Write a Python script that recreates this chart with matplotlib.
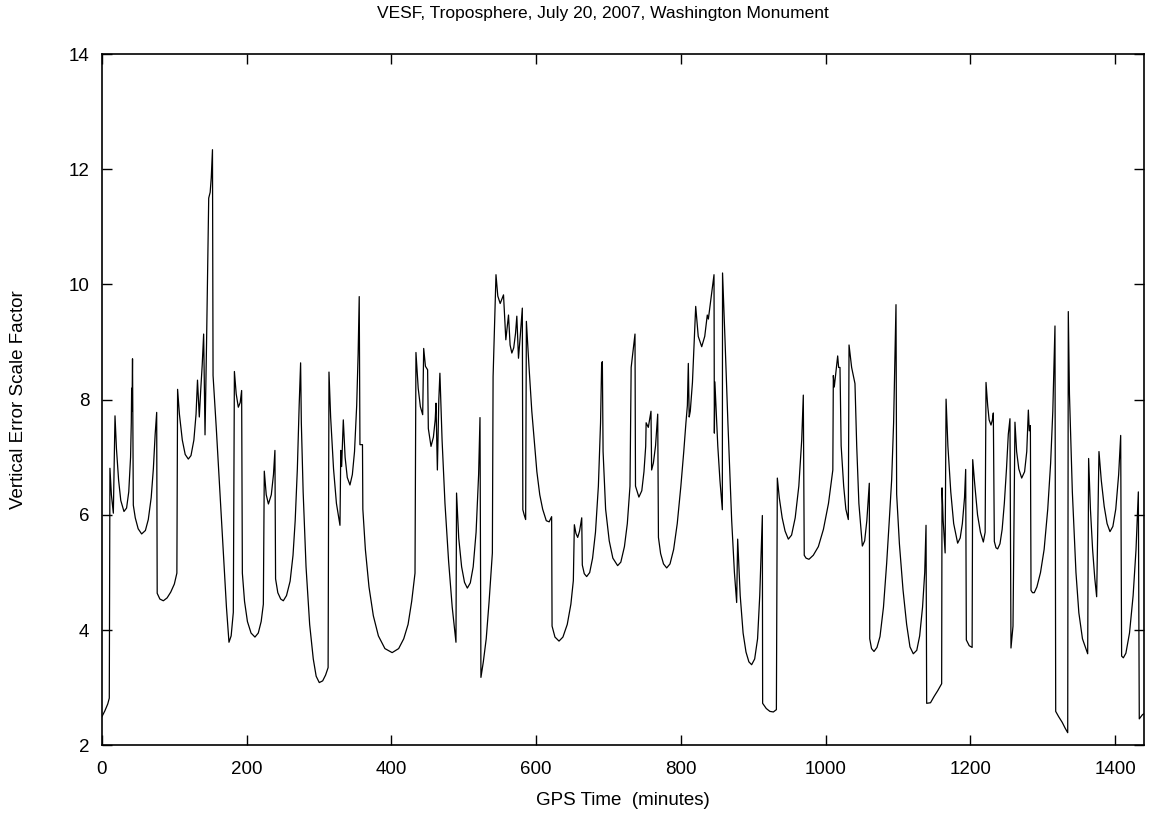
import matplotlib.pyplot as plt

plt.rcParams['font.family'] = ['Liberation Sans', 'DejaVu Sans']

# GPS time (minutes) and vertical error scale factor
gps_minutes = [
    0, 4, 8, 10.1, 11, 13, 15.7, 18, 20, 23, 26, 30.4, 34, 37, 39.5, 40.5, 41, 41.5, 42.2, 43.3,
    46, 50, 54.8, 60, 64, 68, 71, 73.5, 75.6, 76.3, 80, 84.8, 90, 95, 100, 103.5,
    104.5, 107, 111, 115, 119.3, 123, 127, 130, 132, 134.5, 136.5, 138.5, 140.5, 142.4, 144.5,
    147.5, 149.5, 151, 152.7, 153.5, 158, 163, 168, 172, 175.5, 178.5, 181.5,
    183, 185.5, 188.4, 191, 193, 194, 197, 201, 206, 211.4, 216, 220, 223, 224.3, 227, 230, 234,
    237, 239, 239.9, 243, 247, 250.6, 255, 260, 264, 267, 270, 272.5, 274.5, 275.5, 278, 282,
    287, 292, 296, 300.3, 305, 309, 312.5, 313.7, 316, 320, 324, 328.9, 330, 331.2, 333.5, 336,
    339, 342.7, 346, 349, 352, 354, 355.5, 356.5, 360,
    360.5, 364, 369, 375, 382, 391, 401, 410, 417, 423, 428, 432.6, 433.9, 437, 440, 443.2,
    444.6, 447, 450, 451, 454.7, 458, 460.5, 461.6, 463.5, 465.5, 467, 470, 474, 479, 484,
    489.2, 490, 493, 497, 501, 504.9, 509, 513, 517, 520.5, 522.4, 523.7, 527, 531, 535, 539.5,
    540.5, 544.5, 547, 550.3, 554.9, 558.1, 561.8, 564, 566.4, 569, 571.5, 573.3, 575.6, 578,
    580.9, 581.6, 583.5, 585.5, 586.5, 590, 594, 598, 601, 605, 609, 614, 618, 621.4,
    622, 626, 631.6, 637, 643, 648, 651.4, 652.8, 655, 657.4, 660, 663, 663.8, 666.5, 669.8,
    674, 678, 682, 686, 689, 690.5, 691.5, 692.5, 696, 701, 706, 712.6, 717, 722, 726, 729.7,
    731.3, 734, 736.6, 737.3, 742, 746, 749, 751.4, 752, 755, 758.7, 759.6, 762, 765, 768, 769,
    772, 776, 780.4, 785, 790, 795, 800, 804, 807, 809, 810.3, 811.5, 813, 816, 818.6, 820.5,
    824, 828.8, 833, 836.5, 838, 842, 845.8, 846.3, 847, 851, 854, 857.3, 857.6, 861, 865,
    870.2, 874, 877.1, 878.5, 882, 886, 890, 894, 897.8, 902, 906, 909, 912.6,
    913, 918, 923, 927.8, 932, 933.3, 936, 940, 944, 948.5, 953, 958, 963, 967, 969.2, 970.5,
    973, 977, 983, 990, 997, 1004, 1010, 1010.7, 1012, 1014.5, 1016.7, 1018, 1019.9, 1021.5,
    1025, 1028, 1031.4, 1032.4, 1036, 1040.6, 1043, 1046, 1050.8, 1054, 1057, 1060.4, 1061,
    1063.5, 1066.9, 1071, 1075.2, 1080, 1084.4, 1088, 1091.3, 1094, 1096, 1097.3, 1098.2, 1102,
    1107, 1112, 1116.6, 1121.2, 1126, 1130, 1134, 1137, 1138.8, 1139.7, 1145, 1150, 1155,
    1160.4, 1160.9, 1162.5, 1165.2, 1166.5, 1169, 1173, 1177, 1182.5, 1186, 1189, 1192, 1193.6,
    1194.5, 1198.5, 1202.5, 1203.3, 1206, 1210, 1214, 1218, 1220.5, 1221.7, 1224, 1226, 1228.6,
    1230.5, 1231.8, 1233.2, 1235.5, 1237.8, 1241, 1244, 1247, 1250, 1252.5, 1254.8, 1256.2,
    1259, 1261.7, 1264, 1267, 1271, 1275, 1278, 1280.2, 1281.5, 1283, 1283.9, 1286, 1288.4,
    1292, 1297, 1302, 1307, 1311, 1314, 1317, 1318, 1322, 1327, 1331, 1334.6, 1335.4, 1337,
    1341, 1346, 1350, 1355, 1362.2, 1363.5, 1366, 1369, 1372, 1374.6, 1377.8, 1381, 1385, 1389,
    1393, 1397, 1401, 1405, 1407.8, 1409.1, 1411.5, 1415, 1420, 1425, 1429, 1432.2, 1433.5,
    1437.7, 1440,
]

vesf = [
    2.50, 2.60, 2.72, 2.82, 6.81, 6.35, 6.03, 7.72, 7.15, 6.60, 6.25, 6.06, 6.12, 6.40, 7.00, 7.60, 8.20, 7.80, 8.71, 6.17,
    5.95, 5.76, 5.67, 5.73, 5.92, 6.30, 6.80, 7.40, 7.78, 4.64, 4.54, 4.51, 4.56, 4.66, 4.80, 4.99,
    8.18, 7.75, 7.30, 7.05, 6.97, 7.03, 7.30, 7.75, 8.34, 7.70, 8.18, 8.60, 9.14, 7.39, 8.97,
    11.50, 11.60, 11.85, 12.34, 8.42, 7.50, 6.40, 5.30, 4.40, 3.79, 3.90, 4.31,
    8.49, 8.10, 7.87, 7.95, 8.16, 4.99, 4.50, 4.15, 3.95, 3.88, 3.95, 4.15, 4.45, 6.76, 6.35, 6.19, 6.35,
    6.70, 7.12, 4.89, 4.65, 4.54, 4.51, 4.60, 4.85, 5.30, 5.90, 6.80, 7.90, 8.64, 7.60, 6.40, 5.10,
    4.10, 3.50, 3.20, 3.09, 3.12, 3.22, 3.35, 8.48, 7.70, 6.80, 6.20, 5.82, 7.12, 6.84, 7.65, 7.00,
    6.65, 6.52, 6.70, 7.10, 7.90, 8.80, 9.79, 7.22, 7.22,
    6.10, 5.40, 4.75, 4.25, 3.90, 3.68, 3.61, 3.68, 3.85, 4.10, 4.50, 4.99, 8.82, 8.20, 7.88, 7.74,
    8.89, 8.58, 8.52, 7.50, 7.19, 7.35, 7.65, 7.94, 6.78, 8.00, 8.46, 7.30, 6.20, 5.20, 4.40,
    3.79, 6.38, 5.60, 5.10, 4.83, 4.73, 4.82, 5.10, 5.70, 6.70, 7.69, 3.18, 3.45, 3.85, 4.50, 5.34,
    8.40, 10.17, 9.80, 9.67, 9.82, 9.04, 9.47, 8.95, 8.81, 8.90, 9.15, 9.45, 8.72, 9.10,
    9.59, 6.09, 6.00, 5.92, 9.36, 8.60, 7.80, 7.20, 6.75, 6.35, 6.10, 5.90, 5.88, 5.97,
    4.07, 3.88, 3.81, 3.88, 4.10, 4.45, 4.86, 5.83, 5.68, 5.61, 5.72, 5.95, 5.13, 4.98, 4.93,
    5.00, 5.25, 5.70, 6.50, 7.60, 8.63, 8.66, 7.10, 6.10, 5.55, 5.25, 5.12, 5.18, 5.45, 5.85, 6.50,
    8.56, 8.85, 9.14, 6.50, 6.31, 6.42, 6.75, 7.19, 7.60, 7.52, 7.80, 6.78, 6.90, 7.20, 7.75, 5.61,
    5.33, 5.15, 5.08, 5.15, 5.40, 5.85, 6.50, 7.10, 7.60, 7.90, 8.63, 7.70, 7.80, 8.30, 9.04, 9.62,
    9.10, 8.92, 9.10, 9.47, 9.40, 9.80, 10.17, 7.42, 8.31, 7.20, 6.60, 6.09, 10.20, 9.04, 7.60,
    5.91, 5.00, 4.48, 5.58, 4.60, 3.95, 3.62, 3.45, 3.40, 3.50, 3.85, 4.60, 5.99,
    2.73, 2.64, 2.59, 2.58, 2.62, 6.64, 6.30, 5.95, 5.72, 5.58, 5.65, 5.95, 6.50, 7.30, 8.08, 5.30,
    5.25, 5.23, 5.30, 5.45, 5.75, 6.20, 6.78, 8.42, 8.22, 8.50, 8.76, 8.56, 8.56, 7.20,
    6.50, 6.10, 5.92, 8.95, 8.56, 8.28, 7.20, 6.20, 5.46, 5.55, 5.90, 6.55, 3.85,
    3.68, 3.63, 3.70, 3.89, 4.40, 5.16, 5.90, 6.61, 7.60, 8.80, 9.65, 6.36, 5.50,
    4.70, 4.10, 3.71, 3.59, 3.65, 3.90, 4.40, 5.00, 5.82, 2.73, 2.74, 2.85, 2.95,
    3.07, 6.47, 5.90, 5.34, 8.01, 7.20, 6.40, 5.85, 5.51, 5.60, 5.85, 6.30, 6.79,
    3.83, 3.73, 3.70, 6.96, 6.55, 6.00, 5.70, 5.53, 5.70, 8.30, 7.90, 7.65, 7.56,
    7.65, 7.77, 5.54, 5.43, 5.41, 5.50, 5.75, 6.20, 6.80, 7.40, 7.67, 3.69,
    4.07, 7.61, 7.10, 6.80, 6.64, 6.75, 7.10, 7.82, 7.46, 7.55, 4.69, 4.65, 4.65,
    4.75, 5.00, 5.40, 6.10, 6.90, 7.80, 9.28, 2.59, 2.50, 2.40, 2.30, 2.22, 9.53, 8.10,
    6.40, 5.00, 4.30, 3.85, 3.59, 6.98, 6.10, 5.40, 4.90, 4.58, 7.10, 6.60, 6.15, 5.85,
    5.71, 5.80, 6.10, 6.70, 7.38, 3.55, 3.52, 3.60, 3.95, 4.60, 5.40, 6.40, 2.46,
    2.53, 2.55,
]

x_ticks = [0, 200, 400, 600, 800, 1000, 1200, 1400]
y_ticks = [2, 4, 6, 8, 10, 12, 14]

fig = plt.figure(figsize=(11.51, 8.19), dpi=100)
ax = fig.add_axes([0.0886, 0.0899, 0.9053, 0.8441])

ax.plot(gps_minutes, vesf, color='black', linewidth=0.9)

ax.set_xlim(0, 1440)
ax.set_ylim(2, 14)
ax.set_xticks(x_ticks)
ax.set_yticks(y_ticks)
ax.tick_params(direction='in', top=True, right=True, length=7, width=1,
               labelsize=13.5)
ax.tick_params(axis='x', pad=11)
ax.tick_params(axis='y', pad=9)
for spine in ax.spines.values():
    spine.set_linewidth(1.2)

ax.set_xlabel("GPS Time  (minutes)", fontsize=13.5, labelpad=10)
ax.set_ylabel("Vertical Error Scale Factor", fontsize=13.5, labelpad=30)
fig.text(0.524, 0.984, "VESF, Troposphere, July 20, 2007, Washington Monument",
         ha='center', va='center', fontsize=12.5)

fig.savefig("out.png", dpi=100)
